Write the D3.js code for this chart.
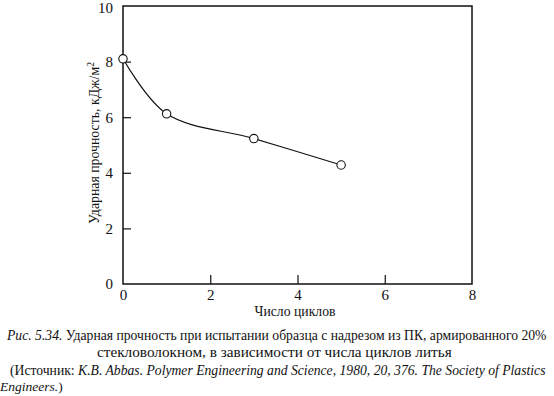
<!DOCTYPE html>
<html>
<head>
<meta charset="utf-8">
<script src="https://cdn.jsdelivr.net/npm/d3@7"></script>
<style>
  body { margin: 0; background: #fff; }
  svg { display: block; }
</style>
</head>
<body>
<div id="container"></div>
<script>
"use strict";

// Data.
const cycles = [0, 1, 3, 5];
const strength = [8.1, 6.12, 5.23, 4.28];
const xTicks = [0, 2, 4, 6, 8];
const yTicks = [0, 2, 4, 6, 8, 10];

const width = 554;
const height = 396;
const margin = { top: 6, right: 82, bottom: 112, left: 123 };
const serif = "Liberation Serif";

const svg = d3.create("svg").attr("width", width).attr("height", height);
d3.select("#container").append(() => svg.node());

const x = d3.scaleLinear().domain([0, 8]).range([margin.left, width - margin.right]);
const y = d3.scaleLinear().domain([0, 10]).range([height - margin.bottom, margin.top]);

// Scale a text so it spans the same width as in the picture.
function fit(t, size, w) {
  t.style("font-size", size + "px");
  const got = t.node().getComputedTextLength();
  t.style("font-size", (size * w) / got + "px");
}

// Frame.
svg
  .append("rect")
  .attr("x", x(0))
  .attr("y", y(10))
  .attr("width", x(8) - x(0))
  .attr("height", y(0) - y(10))
  .attr("fill", "none")
  .attr("stroke", "#111")
  .attr("stroke-width", 1.5);

// Left axis, ticks pointing inside.
svg
  .append("g")
  .attr("transform", `translate(${x(0)},0)`)
  .call(d3.axisLeft(y).tickValues(yTicks).tickSizeInner(-8).tickSizeOuter(0).tickPadding(10))
  .call((g) => g.select(".domain").remove())
  .call((g) => g.selectAll("line").attr("stroke", "#111").attr("stroke-width", 1.2))
  .call((g) => g.selectAll("line").filter((d) => d === 0 || d === 10).remove())
  .call((g) =>
    g.selectAll("text")
      .attr("fill", "#111")
      .style("font-family", serif)
      .style("font-size", "15px")
      .attr("x", -10)
      .attr("dy", (d) => (d === 10 ? "0.45em" : "0.32em"))
  );

// Bottom axis.
svg
  .append("g")
  .attr("transform", `translate(0,${y(0)})`)
  .call(d3.axisBottom(x).tickValues(xTicks).tickSizeInner(-9).tickSizeOuter(0).tickPadding(6))
  .call((g) => g.select(".domain").remove())
  .call((g) => g.selectAll("line").attr("stroke", "#111").attr("stroke-width", 1.2))
  .call((g) => g.selectAll("line").filter((d) => d === 0 || d === 8).remove())
  .call((g) =>
    g.selectAll("text")
      .attr("fill", "#111")
      .style("font-family", serif)
      .style("font-size", "15px")
      .attr("y", 5)
  );

const points = cycles.map((c, i) => ({ c, v: strength[i] }));

// Smooth curve through the measured points.
svg
  .append("path")
  .datum(points)
  .attr("fill", "none")
  .attr("stroke", "#111")
  .attr("stroke-width", 1.2)
  .attr(
    "d",
    d3
      .line()
      .x((d) => x(d.c))
      .y((d) => y(d.v))
      .curve(d3.curveCatmullRom.alpha(0.5))
  );

svg
  .selectAll(".pt")
  .data(points)
  .enter()
  .append("circle")
  .attr("cx", (d) => x(d.c))
  .attr("cy", (d) => y(d.v))
  .attr("r", 4.2)
  .attr("fill", "#fff")
  .attr("stroke", "#111")
  .attr("stroke-width", 1.1);

// Axis titles.
const yTitle = svg
  .append("text")
  .attr("transform", "translate(99,143) rotate(-90)")
  .attr("text-anchor", "middle")
  .style("font-family", serif)
  .attr("fill", "#111")
  .text("Ударная прочность, кДж/м");
yTitle.append("tspan").attr("dy", -5).style("font-size", "0.7em").text("2");
fit(yTitle, 14, 162);

const xTitle = svg
  .append("text")
  .attr("x", 295)
  .attr("y", 316)
  .attr("text-anchor", "middle")
  .style("font-family", serif)
  .attr("fill", "#111")
  .text("Число циклов");
fit(xTitle, 13, 81);

// Caption.
const cap = svg.append("g").style("font-family", serif).attr("fill", "#111");

const l1 = cap.append("text").attr("x", 7).attr("y", 340);
l1.append("tspan").style("font-style", "italic").text("Рис. 5.34.");
l1.append("tspan").text(" Ударная прочность при испытании образца с надрезом из ПК, армированного 20%");
fit(l1, 14, 540);

const l2 = cap
  .append("text")
  .attr("x", 97)
  .attr("y", 357)
  .text("стекловолокном, в зависимости от числа циклов литья");
fit(l2, 14, 355);

const l3 = cap.append("text").attr("x", 10).attr("y", 375);
l3.append("tspan").text("(Источник: ");
l3.append("tspan")
  .style("font-style", "italic")
  .text("K.B. Abbas. Polymer Engineering and Science, 1980, 20, 376. The Society of Plastics");
fit(l3, 14, 536);

const l4 = cap.append("text").attr("x", 0).attr("y", 391).style("font-size", "13.5px");
l4.append("tspan").style("font-style", "italic").text("Engineers.");
l4.append("tspan").text(")");
</script>
</body>
</html>
